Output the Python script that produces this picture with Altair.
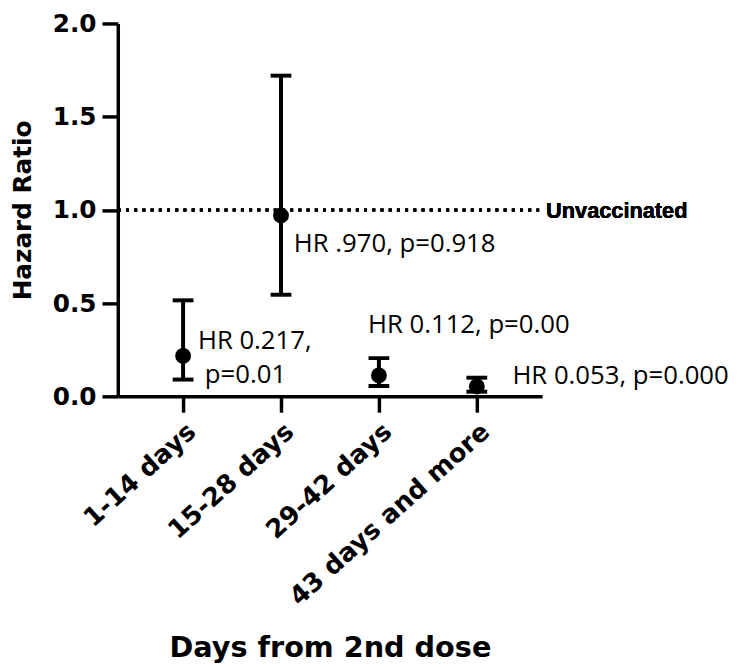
import altair as alt
import pandas as pd

categories = ["1-14 days", "15-28 days", "29-42 days", "43 days and more"]
hr = [0.217, 0.970, 0.112, 0.053]
ci_low = [0.09, 0.545, 0.055, 0.025]
ci_high = [0.515, 1.72, 0.205, 0.10]
hr_labels = ["HR 0.217,", "HR .970, p=0.918", "HR 0.112, p=0.00", "HR 0.053, p=0.000"]
p_labels = ["p=0.01", "", "", ""]
y_ticks = [0.0, 0.5, 1.0, 1.5, 2.0]
reference_value = 1.0
reference_label = "Unvaccinated"

df = pd.DataFrame({"cat": categories, "hr": hr, "lo": ci_low, "hi": ci_high,
                   "lab": hr_labels, "p": p_labels})

xscale = alt.Scale(type="point", padding=0.667)
xaxis = alt.Axis(title="Days from 2nd dose", labelAngle=-42, labelPadding=6, labelLimit=0,
                 labelFontSize=26, titleFontSize=29, titlePadding=40)
yscale = alt.Scale(domain=[0, 2], nice=False, zero=True)
yaxis = alt.Axis(title="Hazard Ratio", values=y_ticks, format=".1f", labelPadding=6,
                 labelFontSize=25, titleFontSize=25, titlePadding=17)


def X():
    return alt.X("cat:N", sort=categories, scale=xscale, axis=xaxis)


def Y(field):
    return alt.Y(field, type="quantitative", scale=yscale, axis=yaxis)


base = alt.Chart(df)

ref_line = alt.Chart(df).mark_rule(strokeDash=[3, 5.3], strokeWidth=3, color="black").encode(
    x=alt.value(0), x2=alt.value(426), y=alt.datum(reference_value)
)
ref_text = alt.Chart(df).mark_text(
    align="left", baseline="middle", font="Liberation Sans", fontWeight="bold",
    fontSize=22, color="black", dy=1
).encode(x=alt.value(433), y=alt.datum(reference_value), text=alt.value(reference_label))

bars = base.mark_rule(strokeWidth=4, color="black").encode(x=X(), y=Y("lo"), y2="hi")
cap_lo = base.mark_tick(size=21, thickness=4, color="black", opacity=1).encode(x=X(), y=Y("lo"))
cap_hi = base.mark_tick(size=21, thickness=4, color="black", opacity=1).encode(x=X(), y=Y("hi"))
pts = base.mark_point(filled=True, shape="circle", size=256, color="black", opacity=1).encode(
    x=X(), y=Y("hr"))

offsets = [(15, -7), (13, 37), (-11, -43), (36, -2)]
texts = []
for cat, (dx, dy) in zip(categories, offsets):
    texts.append(
        base.transform_filter(alt.datum.cat == cat).mark_text(
            align="left", baseline="alphabetic", font="Open Sans", fontSize=26,
            color="black", dx=dx, dy=dy
        ).encode(x=X(), y=Y("hr"), text="lab:N")
    )
texts.append(
    base.transform_filter(alt.datum.cat == categories[0]).mark_text(
        align="left", baseline="alphabetic", font="Open Sans", fontSize=26,
        color="black", dx=22, dy=27
    ).encode(x=X(), y=Y("hr"), text="p:N")
)

chart = alt.layer(ref_line, ref_text, bars, cap_lo, cap_hi, pts, *texts).properties(
    width=429, height=377,
    autosize=alt.AutoSizeParams(type="none"),
    padding={"left": 111, "top": 12, "right": 194, "bottom": 270},
).configure_view(stroke=None).configure_axis(
    domainColor="black", domainWidth=3.5, tickColor="black", tickWidth=3.5, tickSize=16,
    labelColor="black", titleColor="black", grid=False,
    labelFont="DejaVu Sans", labelFontWeight="bold",
    titleFont="DejaVu Sans", titleFontWeight="bold",
)

chart.save("out.html", embed_options={"renderer": "svg", "actions": False})
